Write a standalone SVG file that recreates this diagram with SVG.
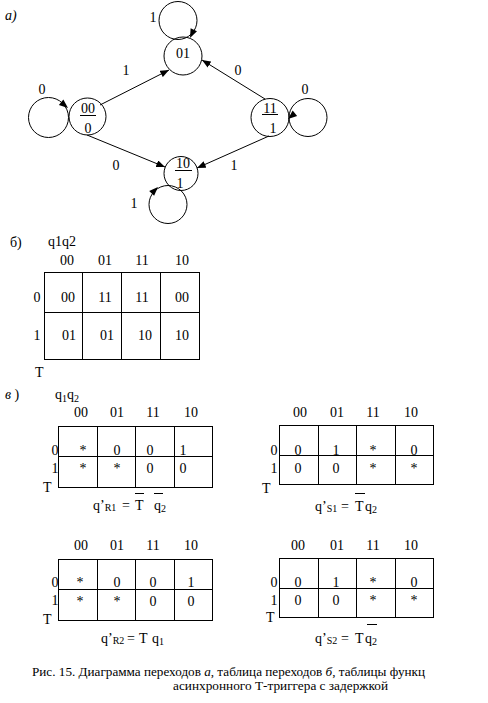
<svg xmlns="http://www.w3.org/2000/svg" width="488" height="703" viewBox="0 0 488 703">
<style>
text{font-family:'Liberation Serif','Times New Roman',serif;font-size:14px;fill:#000}
.c{text-anchor:middle}
.s{font-size:10px}
.cap{font-size:13px}
.ln{fill:none;stroke:#000;stroke-width:1}
.g{fill:none;stroke:#000;stroke-width:1}
</style>
<defs>
<marker id="arr" viewBox="0 0 10 8" refX="10" refY="4" markerWidth="9" markerHeight="7" orient="auto" markerUnits="userSpaceOnUse"><path d="M0,0 L10,4 L0,8 Z" fill="#000"/></marker>
<path id="ah" d="M0,0 L-9,-3.5 L-9,3.5 Z" fill="#000"/>
</defs>

<text x="5" y="20" font-style="italic">а)</text>

<g id="connectors">
<line class="ln" x1="100" y1="105" x2="169" y2="70" marker-end="url(#arr)"/>
<line class="ln" x1="265" y1="99" x2="202" y2="60" marker-end="url(#arr)"/>
<line class="ln" x1="87" y1="135" x2="165" y2="167" marker-end="url(#arr)"/>
<line class="ln" x1="269" y1="136" x2="197" y2="168" marker-end="url(#arr)"/>
<circle class="ln" cx="178" cy="20.5" r="19"/>
<circle class="ln" cx="48.5" cy="117.5" r="20"/>
<circle class="ln" cx="308" cy="117.5" r="19"/>
<circle class="ln" cx="168" cy="204.5" r="19"/>
<use href="#ah" transform="translate(190,38) rotate(115)"/>
<use href="#ah" transform="translate(68,108) rotate(40)"/>
<use href="#ah" transform="translate(288,119) rotate(140)"/>
<use href="#ah" transform="translate(158,187) rotate(-45)"/>
<text class="c" x="126" y="75">1</text>
<text class="c" x="238" y="75">0</text>
<text class="c" x="116" y="170">0</text>
<text class="c" x="234" y="170">1</text>
<text class="c" x="153" y="22">1</text>
<text class="c" x="42" y="94">0</text>
<text class="c" x="305" y="94">0</text>
<text class="c" x="134" y="208">1</text>
</g>

<g id="n01">
<circle class="ln" cx="183" cy="56" r="19"/>
<text class="c" x="183" y="58">01</text>
</g>
<g id="n00">
<circle class="ln" cx="87.5" cy="116.5" r="18.5"/>
<text class="c" x="88" y="113">00</text>
<line class="ln" x1="80" y1="115.5" x2="96" y2="115.5"/>
<text class="c" x="88" y="133">0</text>
</g>
<g id="n11">
<circle class="ln" cx="270" cy="117.5" r="19"/>
<text class="c" x="270" y="113">11</text>
<line class="ln" x1="262" y1="114.5" x2="278" y2="114.5"/>
<text class="c" x="273" y="133">1</text>
</g>
<g id="n10">
<circle class="ln" cx="181" cy="173.5" r="17"/>
<text class="c" x="183" y="168">10</text>
<line class="ln" x1="175" y1="170.5" x2="192" y2="170.5"/>
<text class="c" x="180" y="188">1</text>
</g>

<g id="table-b">
<text x="10" y="247">б)</text>
<text x="48" y="246">q1q2</text>
<text class="c" x="67" y="265">00</text>
<text class="c" x="105" y="265">01</text>
<text class="c" x="142" y="265">11</text>
<text class="c" x="182" y="265">10</text>
<rect class="g" x="44.5" y="272.5" width="155" height="87"/>
<line class="g" x1="44" y1="312.5" x2="200" y2="312.5"/>
<line class="g" x1="82.5" y1="272" x2="82.5" y2="360"/>
<line class="g" x1="121.5" y1="272" x2="121.5" y2="360"/>
<line class="g" x1="160.5" y1="272" x2="160.5" y2="360"/>
<text class="c" x="37" y="302">0</text>
<text class="c" x="37" y="340">1</text>
<text x="35" y="377">T</text>
<text class="c" x="68" y="302">00</text>
<text class="c" x="105" y="302">11</text>
<text class="c" x="142" y="302">11</text>
<text class="c" x="182" y="302">00</text>
<text class="c" x="69" y="340">01</text>
<text class="c" x="107" y="340">01</text>
<text class="c" x="145" y="340">10</text>
<text class="c" x="182" y="340">10</text>
</g>

<text x="5" y="399"><tspan font-style="italic">в</tspan> )</text>
<text x="55" y="399">q<tspan class="s" dy="3">1</tspan><tspan dy="-3">q</tspan><tspan class="s" dy="3">2</tspan></text>

<g id="table-r1">
<text class="c" x="81" y="417">00</text>
<text class="c" x="117" y="417">01</text>
<text class="c" x="153" y="417">11</text>
<text class="c" x="191" y="417">10</text>
<rect class="g" x="58.5" y="426.5" width="154" height="61"/>
<line class="g" x1="58" y1="456.5" x2="213" y2="456.5"/>
<line class="g" x1="97.5" y1="426" x2="97.5" y2="488"/>
<line class="g" x1="135.5" y1="426" x2="135.5" y2="488"/>
<line class="g" x1="174.5" y1="426" x2="174.5" y2="488"/>
<text class="c" x="55" y="455">0</text>
<text class="c" x="55" y="473">1</text>
<text x="43" y="492">T</text>
<text class="c" x="83" y="455">*</text>
<text class="c" x="117" y="455">0</text>
<text class="c" x="150" y="455">0</text>
<text class="c" x="183" y="455">1</text>
<text class="c" x="83" y="473">*</text>
<text class="c" x="117" y="473">*</text>
<text class="c" x="150" y="473">0</text>
<text class="c" x="183" y="473">0</text>
<text x="93" y="510">q’<tspan class="s" y="511">R1</tspan><tspan x="122" y="510">=</tspan><tspan x="135">T</tspan><tspan x="154">q</tspan><tspan class="s" y="512">2</tspan></text>
<line class="ln" x1="135" y1="493.5" x2="144" y2="493.5"/>
<line class="ln" x1="154" y1="493.5" x2="163" y2="493.5"/>
</g>

<g id="table-s1">
<text class="c" x="300" y="417">00</text>
<text class="c" x="337" y="417">01</text>
<text class="c" x="373" y="417">11</text>
<text class="c" x="411" y="417">10</text>
<rect class="g" x="279.5" y="425.5" width="154" height="59"/>
<line class="g" x1="279" y1="455.5" x2="434" y2="455.5"/>
<line class="g" x1="318.5" y1="425" x2="318.5" y2="485"/>
<line class="g" x1="356.5" y1="425" x2="356.5" y2="485"/>
<line class="g" x1="395.5" y1="425" x2="395.5" y2="485"/>
<text class="c" x="274" y="455">0</text>
<text class="c" x="274" y="473">1</text>
<text x="262" y="493">T</text>
<text class="c" x="298" y="455">0</text>
<text class="c" x="336" y="455">1</text>
<text class="c" x="373" y="455">*</text>
<text class="c" x="414" y="455">0</text>
<text class="c" x="298" y="473">0</text>
<text class="c" x="336" y="473">0</text>
<text class="c" x="373" y="473">*</text>
<text class="c" x="414" y="473">*</text>
<text x="315" y="511">q’<tspan class="s" y="512">S1</tspan><tspan x="341" y="511">=</tspan><tspan x="355">T</tspan><tspan x="365">q</tspan><tspan class="s" y="513">2</tspan></text>
<line class="ln" x1="355" y1="493.5" x2="365" y2="493.5"/>
</g>

<g id="table-r2">
<text class="c" x="81" y="550">00</text>
<text class="c" x="117" y="550">01</text>
<text class="c" x="153" y="550">11</text>
<text class="c" x="191" y="550">10</text>
<rect class="g" x="58.5" y="559.5" width="154" height="61"/>
<line class="g" x1="58" y1="589.5" x2="213" y2="589.5"/>
<line class="g" x1="97.5" y1="559" x2="97.5" y2="621"/>
<line class="g" x1="135.5" y1="559" x2="135.5" y2="621"/>
<line class="g" x1="174.5" y1="559" x2="174.5" y2="621"/>
<text class="c" x="55" y="587">0</text>
<text class="c" x="55" y="605">1</text>
<text x="43" y="624">T</text>
<text class="c" x="80" y="587">*</text>
<text class="c" x="117" y="587">0</text>
<text class="c" x="153" y="587">0</text>
<text class="c" x="191" y="587">1</text>
<text class="c" x="80" y="606">*</text>
<text class="c" x="117" y="606">*</text>
<text class="c" x="153" y="606">0</text>
<text class="c" x="191" y="606">0</text>
<text x="101" y="643">q’<tspan class="s" y="644">R2</tspan><tspan x="127" y="643">=</tspan><tspan x="139">T</tspan><tspan x="152">q</tspan><tspan class="s" y="645">1</tspan></text>
</g>

<g id="table-s2">
<text class="c" x="298" y="550">00</text>
<text class="c" x="337" y="550">01</text>
<text class="c" x="373" y="550">11</text>
<text class="c" x="411" y="550">10</text>
<rect class="g" x="279.5" y="558.5" width="154" height="59"/>
<line class="g" x1="279" y1="588.5" x2="434" y2="588.5"/>
<line class="g" x1="318.5" y1="558" x2="318.5" y2="618"/>
<line class="g" x1="356.5" y1="558" x2="356.5" y2="618"/>
<line class="g" x1="395.5" y1="558" x2="395.5" y2="618"/>
<text class="c" x="274" y="587">0</text>
<text class="c" x="274" y="605">1</text>
<text x="266" y="622">T</text>
<text class="c" x="298" y="587">0</text>
<text class="c" x="336" y="587">1</text>
<text class="c" x="373" y="587">*</text>
<text class="c" x="414" y="587">0</text>
<text class="c" x="298" y="605">0</text>
<text class="c" x="336" y="605">0</text>
<text class="c" x="373" y="605">*</text>
<text class="c" x="414" y="605">*</text>
<text x="315" y="643">q’<tspan class="s" y="644">S2</tspan><tspan x="341" y="643">=</tspan><tspan x="355">T</tspan><tspan x="365">q</tspan><tspan class="s" y="645">2</tspan></text>
<line class="ln" x1="367" y1="624.5" x2="377" y2="624.5"/>
</g>

<text class="cap" x="32" y="676" textLength="393" lengthAdjust="spacingAndGlyphs">Рис. 15. Диаграмма переходов <tspan font-style="italic">а</tspan>, таблица переходов <tspan font-style="italic">б</tspan>, таблицы функц</text>
<text class="cap" x="173" y="690" textLength="215" lengthAdjust="spacingAndGlyphs">асинхронного Т-триггера с задержкой</text>
</svg>
